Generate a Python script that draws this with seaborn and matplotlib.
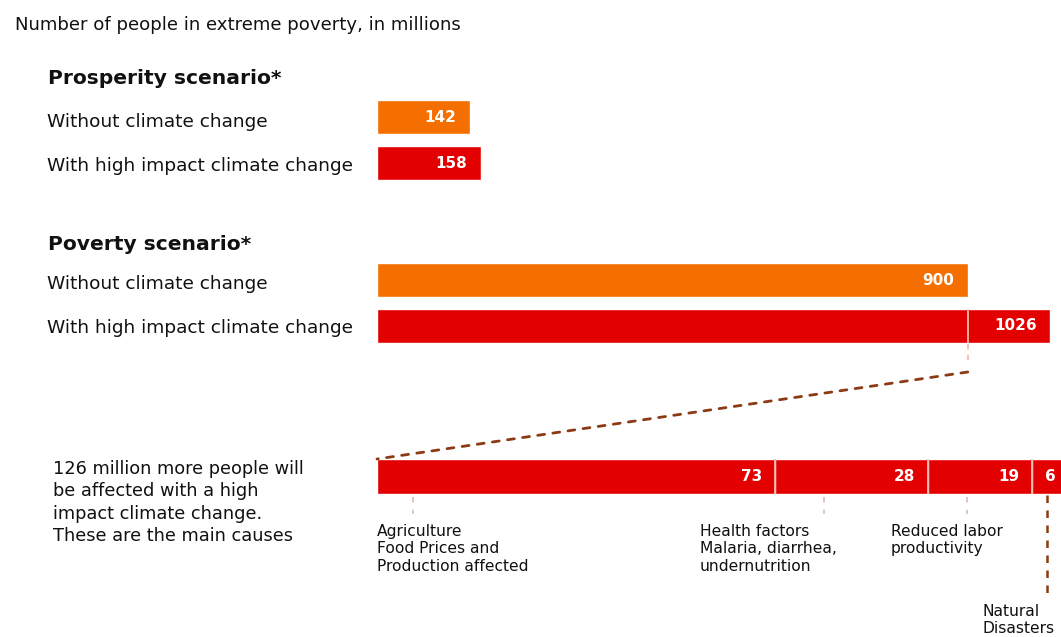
import matplotlib
matplotlib.use("Agg")
import matplotlib.pyplot as plt
from matplotlib.patches import ConnectionPatch
import numpy as np
import pandas as pd
import seaborn as sns

# ---- data -------------------------------------------------------------
row_labels = ["Without climate change", "With high impact climate change"]
prosperity_values = [142, 158]
poverty_values = [900, 1026]

cause_names = [
    "Agriculture\nFood Prices and\nProduction affected",
    "Health factors\nMalaria, diarrhea,\nundernutrition",
    "Reduced labor\nproductivity",
    "Natural\nDisasters",
]
cause_values = [73, 28, 19, 6]

# ---- styling ----------------------------------------------------------
sns.set_theme(style="white")
plt.rcParams["font.family"] = ["DejaVu Sans"]

ORANGE = "#F46E00"
RED = "#E30000"
DIVIDER = "#F7B9AE"
BROWN = "#8A3A14"
TICK_GREY = "#D8C4BA"

W, H = 1061, 637
fig = plt.figure(figsize=(W / 100, H / 100), dpi=100)
fig.patch.set_facecolor("white")


def box(left, top, width, height):
    """Axes rectangle given in pixels measured from the top-left corner."""
    return [left / W, 1 - (top + height) / H, width / W, height / H]


def ftext(x, y, s, **kw):
    kw.setdefault("color", "#111111")
    kw.setdefault("va", "center")
    return fig.text(x / W, 1 - y / H, s, **kw)


def clean(ax):
    ax.set_axis_off()
    ax.set_facecolor("none")


SCEN_XMAX = 1042          # data units spanning the bar area of the scenario panels
BAR_LEFT, BAR_WIDTH = 377, 684

# ---- scenario panels --------------------------------------------------
def scenario_panel(top, height, values, bar_w):
    ax = fig.add_axes(box(BAR_LEFT, top, BAR_WIDTH, height))
    df = pd.DataFrame({"label": row_labels, "value": values})
    sns.barplot(data=df, x="value", y="label", hue="label",
                palette=[ORANGE, RED], orient="h", width=bar_w,
                legend=False, ax=ax, saturation=1)
    ax.set_xlim(0, SCEN_XMAX)
    ax.set_ylim(1.5, -0.5)
    clean(ax)
    for i, v in enumerate(values):
        ax.annotate(f"{v}", xy=(v, i), xytext=(-10, 0),
                    textcoords="offset points", ha="right", va="center",
                    color="white", fontsize=11, fontweight="bold")
    return ax


ax_pros = scenario_panel(94, 92, prosperity_values, 0.74)
ax_pov = scenario_panel(257, 92, poverty_values, 0.74)

# divider marking the no-climate-change level inside the high-impact bar
base, high = poverty_values
ax_pov.vlines(base, 1 - 0.37, 1 + 0.37, color=DIVIDER, lw=1.3, zorder=5)
ax_pov.plot([base, base], [1.39, 1.8], color=DIVIDER, lw=1.3,
            ls=(0, (3, 3)), clip_on=False, zorder=5)

# ---- breakdown of the extra poverty ------------------------------------
ax_bd = fig.add_axes(box(BAR_LEFT, 451.5, BAR_WIDTH, 50))
cum = np.cumsum(cause_values)
for total in cum[::-1]:
    sns.barplot(x=[total], y=["extra"], orient="h", color=RED,
                width=0.7, ax=ax_bd, saturation=1)
ax_bd.set_xlim(0, 125.4)
ax_bd.set_ylim(0.5, -0.5)
clean(ax_bd)
ax_bd.vlines(cum[:-1], -0.35, 0.35, color=DIVIDER, lw=1.3, zorder=5)
for end, v in zip(cum, cause_values):
    ax_bd.annotate(f"{v}", xy=(end, 0), xytext=(-9 if v > 9 else -6, 0),
                   textcoords="offset points", ha="right", va="center",
                   color="white", fontsize=11, fontweight="bold",
                   annotation_clip=False)

# dashed connector from the divider down to the breakdown bar
con = ConnectionPatch(xyA=(base, 2.0), coordsA=ax_pov.transData,
                      xyB=(0, -0.35), coordsB=ax_bd.transData,
                      color=BROWN, lw=2.0, ls=(0, (2.5, 3)))
fig.add_artist(con)

# leader ticks under each cause
tick_x = [6.6, 82.0, 108.2]
for tx in tick_x:
    ax_bd.plot([tx, tx], [0.41, 0.75], color=TICK_GREY, lw=1.3,
               ls=(0, (3, 4)), clip_on=False)
ax_bd.plot([122.9, 122.9], [0.36, 2.38], color=BROWN, lw=1.8,
           ls=(0, (3, 3)), clip_on=False)

label_pos = [(377, 524), (700, 524), (891, 524), (983, 604)]
for (lx, ly), name in zip(label_pos, cause_names):
    ftext(lx, ly, name, fontsize=11.2, va="top", linespacing=1.2)

# ---- texts --------------------------------------------------------------
ftext(15, 25, "Number of people in extreme poverty, in millions", fontsize=13.1)
ftext(48, 79, "Prosperity scenario*", fontsize=14.6, fontweight="bold")
ftext(48, 245, "Poverty scenario*", fontsize=14.6, fontweight="bold")
for y, lab in zip([122, 166, 284, 328], row_labels * 2):
    ftext(47, y, lab, fontsize=13.3)

ftext(53, 460, "126 million more people will\nbe affected with a high\n"
      "impact climate change.\nThese are the main causes",
      fontsize=12.8, va="top", linespacing=1.32)

fig.savefig("out.png", dpi=100, facecolor="white")
